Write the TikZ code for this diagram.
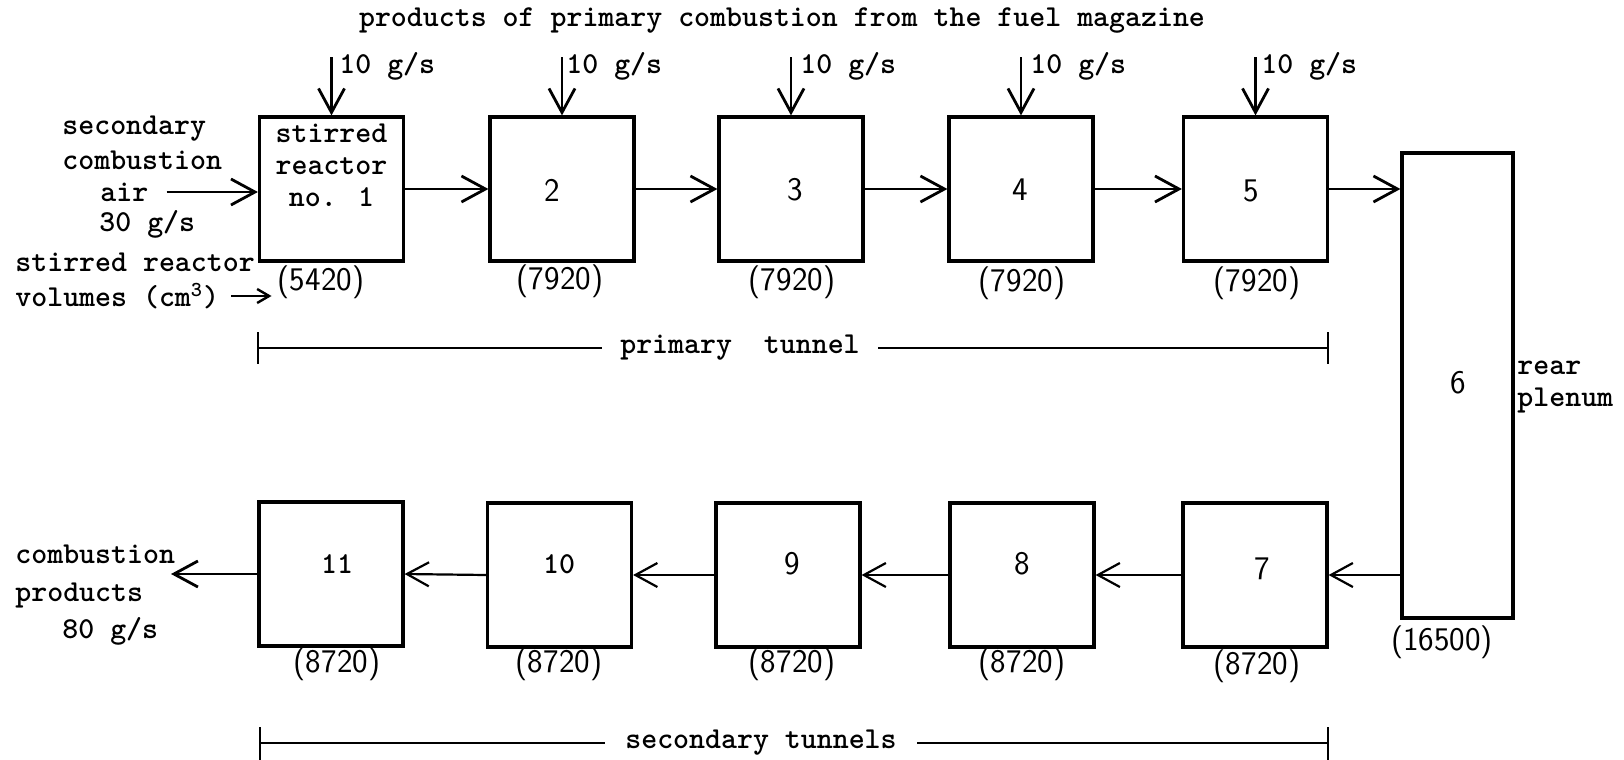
\documentclass[tikz,border=0pt]{standalone}
\usetikzlibrary{arrows.meta}
\newcommand\mytt{\fontsize{15.2pt}{16pt}\selectfont\ttfamily\bfseries}
\newcommand\myhw{\fontsize{16.5pt}{17pt}\selectfont\sffamily}
\tikzset{
  every node/.style={inner sep=0pt, font=\mytt},
  box/.style={draw, line width=1.6pt, minimum width=72pt, minimum height=72pt},
  flow/.style={line width=1.4pt, -{Straight Barb[length=12pt,width=13pt]}},
  back/.style={line width=1.1pt, -{Straight Barb[length=11pt,width=12pt]}},
  smallarr/.style={line width=1.2pt, -{Straight Barb[length=6pt,width=7pt]}},
  hand/.style={font=\myhw},
  tline/.style={line width=0.7pt},
  tick/.style={line width=1.1pt},
}
\begin{document}
\begin{tikzpicture}[x=0.5pt,y=-0.5pt]
\useasboundingbox (0,0) rectangle (1624,760);
% title
\node (title) at (782,21) {products of primary combustion from the fuel magazine};
% upper boxes
\node[box] (b1) at (331.5,189) {};
\node[box] (b2) at (562,189) {};
\node[box] (b3) at (791,189) {};
\node[box] (b4) at (1021,189) {};
\node[box] (b5) at (1255.5,189) {};
\node[box, minimum width=55.5pt, minimum height=232.5pt] (b6) at (1457.5,385.5) {};
% lower boxes
\node[box] (b7) at (1255,575) {};
\node[box] (b8) at (1022,575) {};
\node[box] (b9) at (788,575) {};
\node[box] (b10) at (559.5,575) {};
\node[box] (b11) at (331,574) {};
% box texts
\node[align=center] (t1) at (331.5,165) {stirred\\reactor\\no. 1};
\node[hand] (t2) at (552,190) {2};
\node[hand] (t3) at (795,190) {3};
\node[hand] (t4) at (1020,190) {4};
\node[hand] (t5) at (1251,191) {5};
\node[hand] (t6) at (1458,383) {6};
\node[hand] (t7) at (1262,569) {7};
\node[hand] (t8) at (1022,564) {8};
\node[hand] (t9) at (792,564) {9};
\node (t10) at (559,564) {10};
\node (t11) at (337,564) {11};
% inlet arrows from the fuel magazine
\coordinate (i1) at (331.5,57);
\coordinate (i2) at (562,57);
\coordinate (i3) at (791,57);
\coordinate (i4) at (1021,57);
\coordinate (i5) at (1255.5,57);
\draw[flow] (i1) -- (b1.north);
\draw[flow] (i2) -- (b2.north);
\draw[flow] (i3) -- (b3.north);
\draw[flow] (i4) -- (b4.north);
\draw[flow] (i5) -- (b5.north);
\node[anchor=west] (g1) at (339,66) {10 g/s};
\node[anchor=west] (g2) at (566,66) {10 g/s};
\node[anchor=west] (g3) at (800,66) {10 g/s};
\node[anchor=west] (g4) at (1030,66) {10 g/s};
\node[anchor=west] (g5) at (1261,66) {10 g/s};
% flow through primary tunnel
\draw[flow] (b1.east) -- (b2.west);
\draw[flow] (b2.east) -- (b3.west);
\draw[flow] (b3.east) -- (b4.west);
\draw[flow] (b4.east) -- (b5.west);
\draw[flow] (b5.east) -- (b5.east -| b6.west);
% flow through secondary tunnels
\draw[back] (b6.west |- b7.east) -- (b7.east);
\draw[back] (b7.west) -- (b8.east);
\draw[back] (b8.west) -- (b9.east);
\draw[back] (b9.west) -- (b10.east);
\draw[back] (b10.west) -- (b11.east);
\coordinate (out) at (171,574);
\draw[flow] (b11.west) -- (out);
% secondary air
\node[anchor=west] (sa1) at (62,129) {secondary};
\node[anchor=west] (sa2) at (62,160) {combustion};
\node[anchor=west] (sa3) at (100,192) {air};
\node[anchor=west] (sa4) at (99,224) {30 g/s};
\draw[flow] ([xshift=9pt]sa3.east) -- (sa3.east -| b1.west);
% outlet
\node[anchor=west] (cp1) at (15,554) {combustion};
\node[anchor=west] (cp2) at (15,595) {products};
\node[anchor=west] (cp3) at (62,631) {80 g/s};
% rear plenum
\node[anchor=west] (rp1) at (1517,368) {rear};
\node[anchor=west] (rp2) at (1517,400) {plenum};
% volumes
\node[anchor=west] (vl1) at (15,262) {stirred reactor};
\node[anchor=west] (vl2) at (15,296) {volumes (cm\textsuperscript{3})};
\node[hand] (v1) at (321,282) {(5420)};
\node[hand] (v2) at (560,281) {(7920)};
\node[hand] (v3) at (792,282) {(7920)};
\node[hand] (v4) at (1022,283) {(7920)};
\node[hand] (v5) at (1257,283) {(7920)};
\node[hand] (v6) at (1442,642) {(16500)};
\node[hand] (v7) at (1257,666) {(8720)};
\node[hand] (v8) at (1022,664) {(8720)};
\node[hand] (v9) at (792,664) {(8720)};
\node[hand] (v10) at (559,664) {(8720)};
\node[hand] (v11) at (337,664) {(8720)};
\draw[smallarr] ([xshift=6pt]vl2.east) -- ([xshift=-3pt]vl2.east -| v1.west);
% tunnels
\coordinate (pl) at (258,348);
\coordinate (pr) at (1328,348);
\node[inner xsep=9pt] (pt) at (740,348) {primary\ \ tunnel};
\draw[tline] (pl) -- (pt.west);
\draw[tline] (pt.east) -- (pr);
\draw[tick] ([yshift=8pt]pl) -- ([yshift=-8pt]pl);
\draw[tick] ([yshift=8pt]pr) -- ([yshift=-8pt]pr);
\coordinate (sl) at (260,743);
\coordinate (sr) at (1328,743);
\node[inner xsep=10pt] (st) at (761,743) {secondary tunnels};
\draw[tline] (sl) -- (st.west);
\draw[tline] (st.east) -- (sr);
\draw[tick] ([yshift=8pt]sl) -- ([yshift=-10pt]sl);
\draw[tick] ([yshift=8pt]sr) -- ([yshift=-10pt]sr);
\end{tikzpicture}
\end{document}
